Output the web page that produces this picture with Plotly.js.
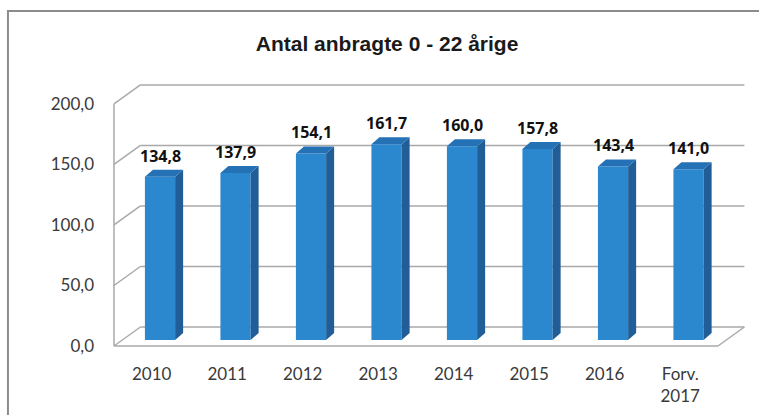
<!DOCTYPE html>
<html>
<head>
<meta charset="utf-8">
<script src="https://cdn.plot.ly/plotly-3.0.1.min.js"></script>
<style>
  html, body { margin: 0; padding: 0; background: #ffffff; }
  #chart { width: 759px; height: 415px; }
</style>
</head>
<body>
<div id="chart"></div>
<script>
// Chart data
const categories = ['2010', '2011', '2012', '2013', '2014', '2015', '2016', 'Forv.<br>2017'];
const values = [134.8, 137.9, 154.1, 161.7, 160.0, 157.8, 143.4, 141.0];
const yTicks = [0, 50, 100, 150, 200];

// 3D look: depth of the wall and of each bar, in axis units
const wallDx = 0.35, wallDy = 15.7;
const barShift = 0.11, barBase = 5, barWidth = 0.4;
const sideDx = 0.106, sideDy = 5.8;

const colors = {
  front: '#2b88cf',
  side: '#215d96',
  top: '#2571b5',
  grid: '#a9a9a9',
  border: '#8c8c8c',
  text: '#3a3a3a'
};

const xs = categories.map((c, i) => i + 0.5);
const barX = xs.map(x => x + barShift);

// side and top faces of the bars, built from the values
const sideX = [], sideY = [], topX = [], topY = [];
values.forEach((v, i) => {
  const l = barX[i] - barWidth / 2, r = barX[i] + barWidth / 2;
  const b = barBase, t = barBase + v;
  sideX.push(r, r + sideDx, r + sideDx, r, r, null);
  sideY.push(b, b + sideDy, t + sideDy, t, b, null);
  topX.push(l, l + sideDx, r + sideDx, r, l, null);
  topY.push(t, t + sideDy, t + sideDy, t, t, null);
});

const traces = [
  {
    type: 'bar', x: barX, y: values, base: barBase, width: barWidth,
    marker: { color: colors.front, line: { width: 0 } },
    hoverinfo: 'skip'
  },
  {
    type: 'scatter', mode: 'lines', x: sideX, y: sideY, fill: 'toself',
    fillcolor: colors.side, line: { width: 0, color: colors.side }, hoverinfo: 'skip'
  },
  {
    type: 'scatter', mode: 'lines', x: topX, y: topY, fill: 'toself',
    fillcolor: colors.top, line: { width: 0, color: colors.top }, hoverinfo: 'skip'
  }
];

// back wall gridlines + floor, drawn under the bars
const n = categories.length;
const shapes = [];
const gridLine = { color: colors.grid, width: 1.5 };
yTicks.forEach(v => {
  shapes.push({ type: 'line', layer: 'below', x0: 0, y0: v, x1: wallDx, y1: v + wallDy, line: gridLine });
  shapes.push({ type: 'line', layer: 'below', x0: wallDx, y0: v + wallDy, x1: n + wallDx, y1: v + wallDy, line: gridLine });
});
shapes.push({ type: 'line', layer: 'below', x0: 0, y0: 0, x1: 0, y1: yTicks[yTicks.length - 1], line: gridLine });
shapes.push({ type: 'line', layer: 'below', x0: 0, y0: 0, x1: n, y1: 0, line: gridLine });
shapes.push({ type: 'line', layer: 'below', x0: n, y0: 0, x1: n + wallDx, y1: wallDy, line: gridLine });
// outer frame of the chart
shapes.push({
  type: 'rect', xref: 'paper', yref: 'paper', x0: -0.148, y0: -0.4, x1: 1.2, y1: 1.251,
  line: { color: colors.border, width: 2 }
});

const annotations = values.map((v, i) => ({
  x: barX[i], y: barBase + v + sideDy, xanchor: 'center', yanchor: 'bottom', yshift: 1,
  text: v.toFixed(1).replace('.', ','), showarrow: false,
  font: { family: 'Open Sans', size: 16, color: '#111111', weight: 'bold' }
}));

const layout = {
  width: 759, height: 415,
  margin: { l: 104, r: 6, t: 80, b: 60 },
  paper_bgcolor: '#ffffff', plot_bgcolor: '#ffffff',
  separators: ',.',
  showlegend: false,
  title: {
    text: '<b>Antal anbragte 0 - 22 årige</b>',
    font: { family: 'Liberation Sans', size: 21, color: '#1a1a1a' },
    x: 0.51, xanchor: 'center', y: 0.896, yanchor: 'middle'
  },
  xaxis: {
    range: [-0.132, 8.464], tickvals: xs, ticktext: categories,
    showgrid: false, zeroline: false, showline: false, ticks: '',
    tickfont: { family: 'Lato', size: 17, color: colors.text },
    ticklabelstandoff: 7, fixedrange: true
  },
  yaxis: {
    range: [-7.44, 219.8], tickvals: yTicks, tickformat: '.1f',
    showgrid: false, zeroline: false, showline: false, ticks: '',
    tickfont: { family: 'Lato', size: 17, color: colors.text },
    ticklabelstandoff: 9, fixedrange: true
  },
  shapes: shapes,
  annotations: annotations
};

Plotly.newPlot('chart', traces, layout, { displayModeBar: false, staticPlot: true });
</script>
</body>
</html>
